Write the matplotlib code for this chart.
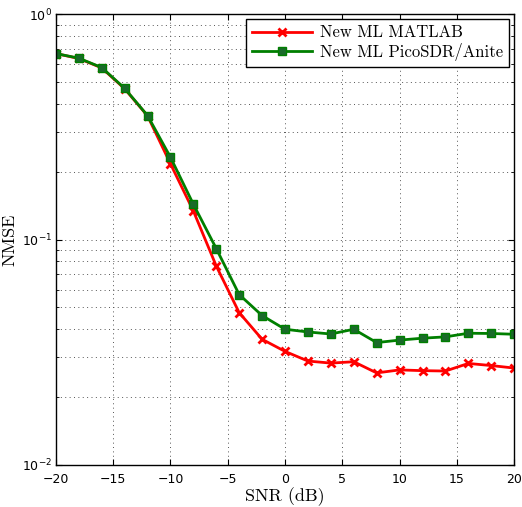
import numpy as np
import matplotlib
matplotlib.use('Agg')
from matplotlib import pyplot as plt
from matplotlib.ticker import LogLocator, NullFormatter

snr = [-20, -18, -16, -14, -12, -10, -8, -6, -4, -2, 0, 2, 4, 6, 8, 10, 12, 14, 16, 18, 20]
nmse_matlab = [0.669, 0.636, 0.578, 0.467, 0.354, 0.217, 0.134, 0.0763, 0.0474, 0.0361, 0.0319,
               0.0289, 0.0283, 0.0287, 0.0256, 0.0264, 0.0262, 0.0261, 0.0282, 0.0276, 0.0269]
nmse_pico = [0.669, 0.638, 0.580, 0.469, 0.355, 0.232, 0.1435, 0.0912, 0.057, 0.046, 0.040,
             0.0389, 0.0381, 0.040, 0.0349, 0.0358, 0.0365, 0.0370, 0.0384, 0.0383, 0.038]

fig = plt.figure(figsize=(5.22, 5.07), dpi=100)
ax = fig.add_axes([0.107, 0.083, 0.878, 0.889])

ax.semilogy(snr, nmse_matlab, color='#ff0000', lw=2, marker='x', ms=6, mew=2,
            label='New ML MATLAB')
ax.semilogy(snr, nmse_pico, color='#007f00', lw=2, marker='s', ms=6, mec='#007f00',
            mfc='#1a6a2a', label='New ML PicoSDR/Anite')

ax.set_xlim(-20, 20)
ax.set_ylim(1e-2, 1e0)
ax.set_xticks(np.arange(-20, 21, 5))
ax.yaxis.set_major_locator(LogLocator(base=10, numticks=5))
ax.yaxis.set_minor_locator(LogLocator(base=10, subs=np.arange(2, 10), numticks=20))
ax.yaxis.set_minor_formatter(NullFormatter())
ax.tick_params(which='both', direction='in', top=True, right=True, labelsize=9)
ax.tick_params(which='major', length=4)
ax.tick_params(which='minor', length=2.5)
ax.tick_params(axis='x', pad=6)
ax.tick_params(axis='y', pad=3)
ax.set_xticklabels(['\u221220', '\u221215', '\u221210', '\u22125', '0', '5', '10', '15', '20'])

ax.grid(True, which='major', linestyle=(0, (1, 3.5)), color='#555555', lw=0.7)
ax.grid(True, which='minor', axis='y', linestyle=(0, (1, 3.5)), color='#555555', lw=0.7)

ax.set_xlabel('SNR (dB)', fontfamily='cmr10', fontsize=13, labelpad=1)
ax.set_ylabel('NMSE', fontfamily='cmr10', fontsize=13)
ax.yaxis.set_label_coords(-0.083, 0.5)

leg = ax.legend(loc='upper right', prop={'family': 'cmr10', 'size': 12}, fancybox=False,
                edgecolor='black', framealpha=1, borderaxespad=0.3, handlelength=3.6,
                borderpad=0.35, labelspacing=0.15, handletextpad=0.5)
leg.get_frame().set_linewidth(1.0)

for s in ax.spines.values():
    s.set_linewidth(1.0)

fig.savefig('out.png', dpi=100)
